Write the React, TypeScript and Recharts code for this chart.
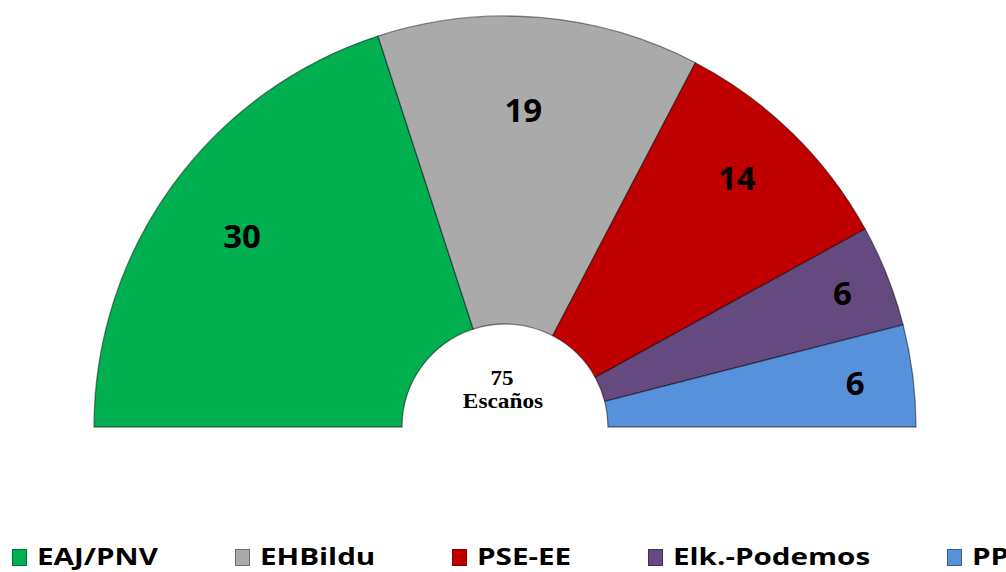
import { PieChart, Pie, Cell, Legend } from 'recharts';

const parties = ['EAJ/PNV', 'EHBildu', 'PSE-EE', 'Elk.-Podemos', 'PP'];
const seats = [30, 19, 14, 6, 6];
const colors = ['#00B050', '#AAAAAA', '#C00000', '#644A7E', '#5791DB'];
const totalLabel = '75';
const centerCaption = 'Escaños';

const data = parties.map((name, i) => ({ name, value: seats[i] }));

// label placement tweaks per slice: distance from centre (px) and angle nudge (deg)
const labelRadius = [325, 318, 340, 363, 353];
const labelNudge = [0, 1.5, 1.4, 0, 0];
const RAD = Math.PI / 180;

const LEGEND_FONT = 'bold 22.5px "Open Sans"';
const STRETCH = 1.315;

const measure = (s: string) => {
  const ctx = document.createElement('canvas').getContext('2d');
  if (!ctx) return s.length * 12;
  ctx.font = LEGEND_FONT;
  return ctx.measureText(s).width;
};

const renderLabel = (props: any) => {
  const { cx, cy, midAngle, index, value } = props;
  const r = labelRadius[index];
  const a = (midAngle + labelNudge[index]) * RAD;
  const x = cx + r * Math.cos(-a);
  const y = cy + r * Math.sin(-a);
  return (
    <text
      x={x}
      y={y + 12}
      textAnchor="middle"
      fill="#000"
      fontFamily="'Open Sans', sans-serif"
      fontWeight={700}
      fontSize={33}
    >
      {value}
    </text>
  );
};

const renderLegend = () => (
  <div style={{ display: 'flex', whiteSpace: 'nowrap', paddingLeft: 12 }}>
    {parties.map((p, i) => {
      const w = measure(p) * STRETCH;
      return (
        <div key={p} style={{ display: 'flex', alignItems: 'center', marginRight: 77 }}>
          <span
            style={{
              width: 13,
              height: 15,
              background: colors[i],
              border: '1px solid rgba(0,0,0,0.35)',
              marginRight: 10,
              flex: 'none',
            }}
          />
          <span style={{ width: w, flex: 'none', display: 'inline-block' }}>
            <span
              style={{
                display: 'inline-block',
                font: LEGEND_FONT,
                color: '#000',
                transform: `scaleX(${STRETCH})`,
                transformOrigin: 'left center',
                lineHeight: '30px',
              }}
            >
              {p}
            </span>
          </span>
        </div>
      );
    })}
  </div>
);

export default function App() {
  return (
    <div style={{ position: 'absolute', left: 0, top: 0, width: 1006, height: 572, overflow: 'hidden', background: '#fff' }}>
      <PieChart width={1006} height={572} margin={{ top: 0, right: 0, bottom: 0, left: 0 }}>
        <Pie
          data={data}
          dataKey="value"
          nameKey="name"
          cx={505}
          cy={427}
          startAngle={180}
          endAngle={0}
          innerRadius={103}
          outerRadius={411}
          stroke="rgba(0,0,0,0.45)"
          strokeWidth={1.3}
          label={renderLabel}
          labelLine={false}
          isAnimationActive={false}
        >
          {data.map((d, i) => (
            <Cell key={d.name} fill={colors[i]} />
          ))}
        </Pie>
        <text
          x={502}
          y={385}
          textAnchor="middle"
          fontFamily="'Liberation Serif', serif"
          fontWeight={700}
          fontSize={20}
          fill="#000"
          transform="translate(502 0) scale(1.15 1) translate(-502 0)"
        >
          {totalLabel}
        </text>
        <text
          x={503}
          y={408}
          textAnchor="middle"
          fontFamily="'Liberation Serif', serif"
          fontWeight={700}
          fontSize={22}
          fill="#000"
          transform="translate(503 0) scale(1.06 1) translate(-503 0)"
        >
          {centerCaption}
        </text>
        <Legend
          content={renderLegend}
          wrapperStyle={{ left: 0, top: 542, width: 1200 }}
        />
      </PieChart>
    </div>
  );
}
